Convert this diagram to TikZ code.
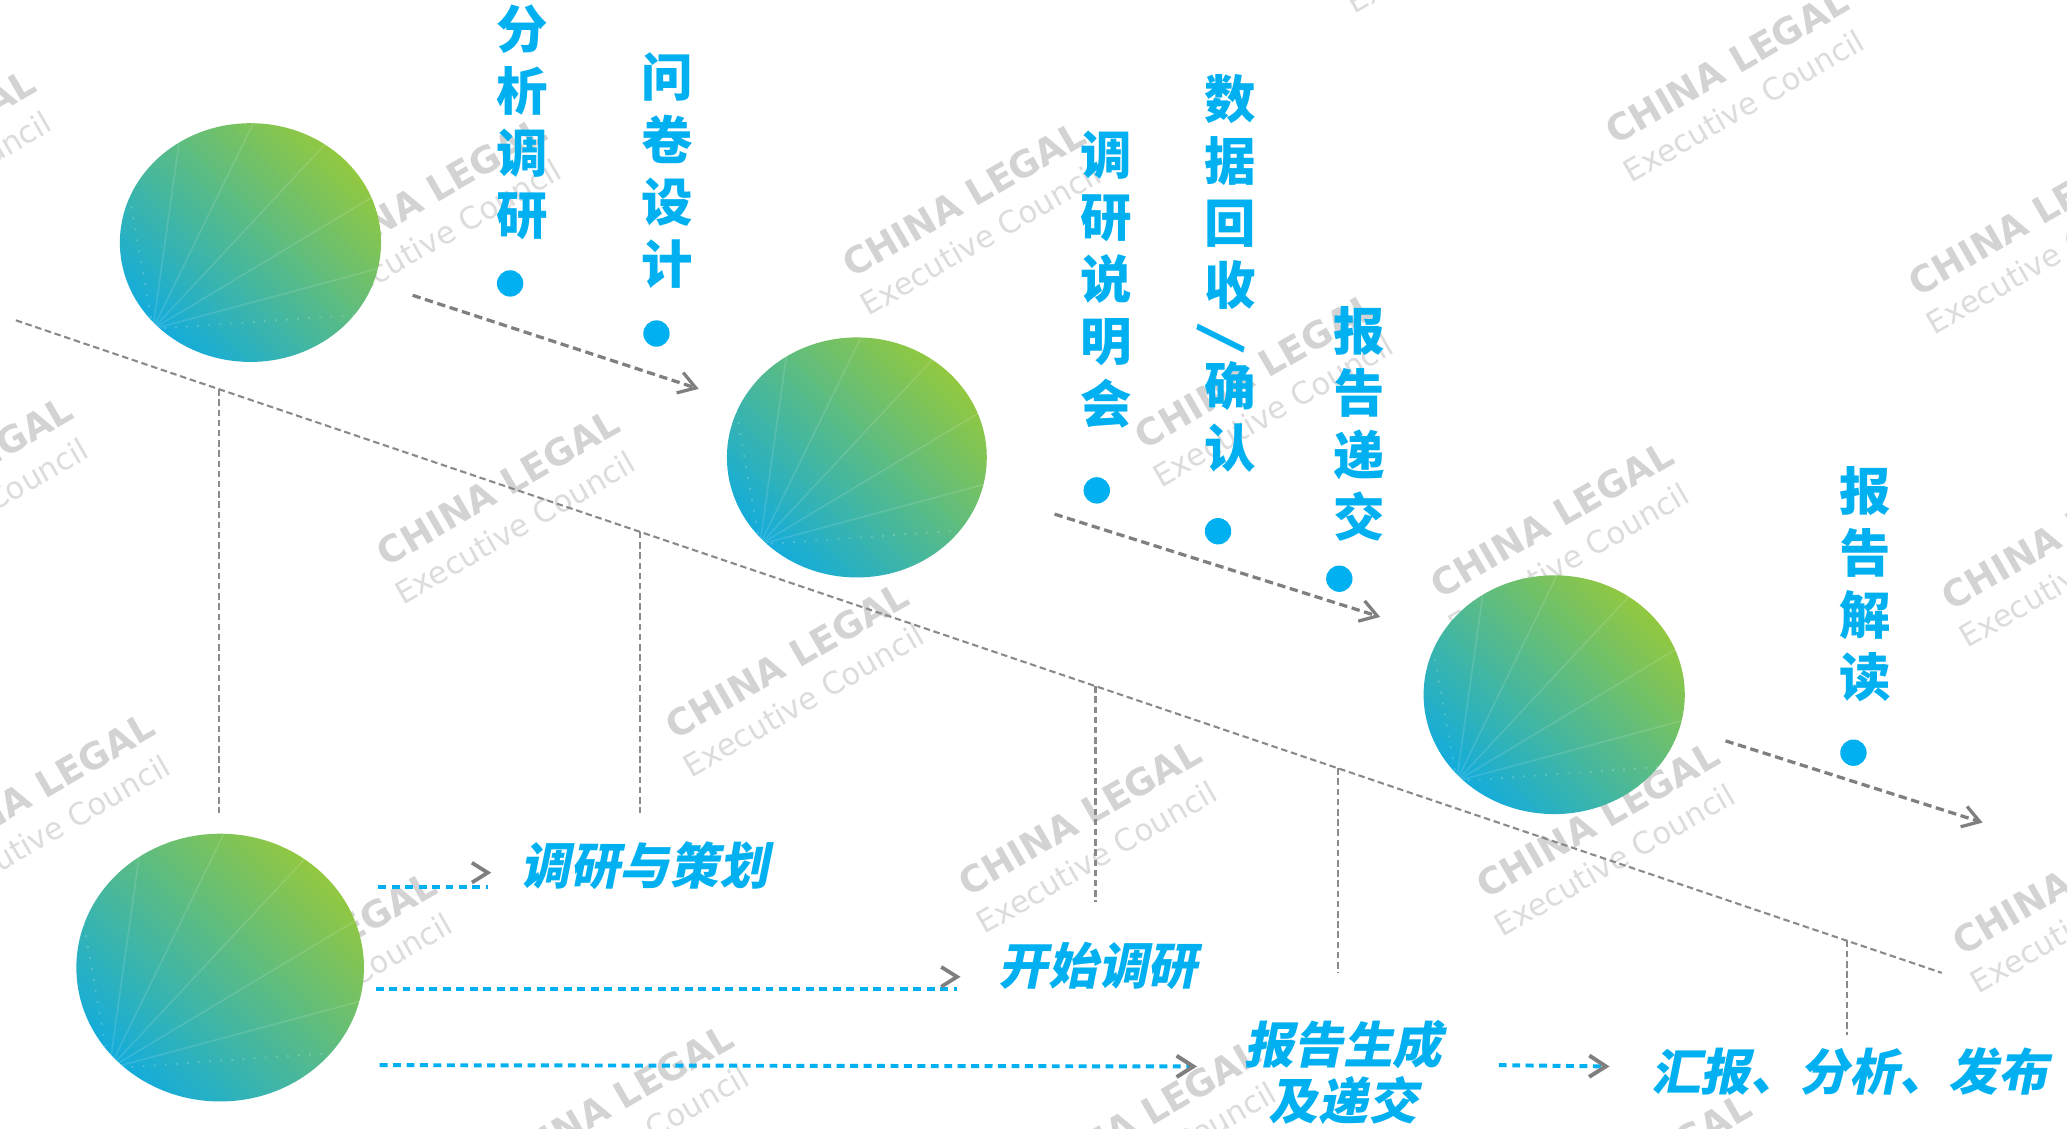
\documentclass[tikz,border=0pt]{standalone}
\usepackage{fontspec}
\setmainfont{DejaVu Sans}
\newfontfamily\cjkv{Noto Sans CJK SC}
\newfontfamily\cjks{Noto Sans CJK SC}[FakeSlant=0.2]
\newfontfamily\wmfont{DejaVu Sans}
\usetikzlibrary{arrows.meta,shapes.geometric,calc}
\definecolor{txtblue}{HTML}{00B0F0}
\definecolor{lngray}{HTML}{7F7F7F}
\definecolor{thingray}{HTML}{8A8A8A}
\definecolor{ballcy}{HTML}{14ACDB}
\definecolor{ballgr}{HTML}{92C840}
\definecolor{wmcA}{HTML}{D3D3D3}
\definecolor{wmcB}{HTML}{DCDCDC}
\begin{document}
\begin{tikzpicture}[x=0.01cm,y=-0.01cm,
  diag/.style={draw=thingray, line width=0.45pt, dash pattern=on 1.4pt off 0.8pt},
  vline/.style={draw=thingray, line width=0.45pt, dash pattern=on 1.4pt off 0.8pt},
  garrow/.style={draw=lngray, line width=0.7pt, dash pattern=on 1.8pt off 1pt, -{Straight Barb[length=3.6pt,width=4.6pt]}},
  bline/.style={draw=txtblue, line width=0.85pt, dash pattern=on 1.7pt off 1.2pt},
  barrow/.style={bline, -{Straight Barb[length=3.6pt,width=4.6pt,color=lngray]}},
  chev/.style={draw=lngray, line width=0.8pt},
  vtext/.style={text=txtblue, font=\cjkv\bfseries\fontsize{11.1pt}{13.4pt}\selectfont, align=center, inner sep=0pt},
  ltext/.style={text=txtblue, font=\cjks\bfseries\fontsize{10.7pt}{12.2pt}\selectfont, align=center, inner sep=0pt},
  dot/.style={circle, fill=txtblue, minimum size=0.2cm, inner sep=0pt},
  wmA/.style={font=\wmfont\bfseries\fontsize{7.9pt}{9pt}\selectfont, text=wmcA, inner sep=0pt, rotate=30},
  wmB/.style={font=\wmfont\fontsize{6.6pt}{8pt}\selectfont, text=wmcB, inner sep=0pt, rotate=30},
  ball/.style={ellipse, inner sep=0pt, top color=ballcy, bottom color=ballgr, shading angle=135,
    path picture={
      \foreach \a in {82,64,47,31,15}{
        \draw[white, opacity=0.12, line width=0.35pt] (path picture bounding box.south west) ++(0.25cm,0.25cm) -- ++(\a:3cm);
      }
      \draw[white, opacity=0.2, line width=0.4pt, dotted] (path picture bounding box.south west) ++(0.25cm,0.25cm) -- ++(100:3cm);
      \draw[white, opacity=0.2, line width=0.4pt, dotted] (path picture bounding box.south west) ++(0.25cm,0.25cm) -- ++(4:3cm);
    }}
]
\useasboundingbox (0,0) rectangle (1568,855.7);
\clip (0,0) rectangle (1568,855.7);
\fill[white] (0,0) rectangle (1568,855.7);

% watermarks
\foreach \i/\x/\y in {1/-65/112, 2/322/148, 3/731/151, 4/1100/-78, 5/1310/50, 6/1540/165,
  7/-37/360, 8/378/370, 9/953/281, 10/597/501, 11/1177/394, 12/1565/403, 13/25/600,
  14/819/620, 15/1212/622, 16/239/720, 17/1573/665, 18/464/836, 19/864/848, 20/1236/889}{
  \node[wmA] (wmA\i) at (\x,\y) {CHINA LEGAL};
  \node[wmB] (wmB\i) at (\x+12.6,\y+30.3) {Executive Council};
}

% main diagonal and verticals
\coordinate (dl0) at (12,243);
\coordinate (dl1) at (1473,738);
\draw[diag] (dl0) -- (dl1);
\coordinate (v1t) at (166,295.2);   \coordinate (v1b) at (166,617);
\coordinate (v2t) at (485.6,403.5); \coordinate (v2b) at (485.6,617);
\coordinate (v3t) at (831,520.5);   \coordinate (v3b) at (831,684);
\coordinate (v4t) at (1015,582.8);  \coordinate (v4b) at (1015,738);
\coordinate (v5t) at (1401,713.6);  \coordinate (v5b) at (1401,785);
\foreach \k in {1,...,5}{ \draw[vline] (v\k t) -- (v\k b); }

% short diagonal arrows
\coordinate (a1s) at (313,224);  \coordinate (a1e) at (530,295);
\coordinate (a2s) at (800,390);  \coordinate (a2e) at (1047,468);
\coordinate (a3s) at (1309,562); \coordinate (a3e) at (1504,624);
\draw[garrow] (a1s) -- (a1e);
\draw[garrow] (a2s) -- (a2e);
\draw[garrow] (a3s) -- (a3e);

% balls
\node[ball, minimum width=1.98cm, minimum height=1.81cm] (c1) at (190,184) {};
\node[ball, minimum width=1.97cm, minimum height=1.82cm] (c2) at (650,347) {};
\node[ball, minimum width=1.98cm, minimum height=1.81cm] (c3) at (1179,527) {};
\node[ball, minimum width=2.18cm, minimum height=2.03cm] (c4) at (167,734) {};

% vertical texts
\node[vtext] (t1) at (396,93) {分\\析\\调\\研};
\node[vtext] (t2) at (506,129.5) {问\\卷\\设\\计};
\node[vtext] (t3) at (839,212) {调\\研\\说\\明\\会};
\node[vtext] (t4a) at (933,145.5) {数\\据\\回\\收};
\node[vtext, rotate=-104] (t4s) at (926,257) {/};
\node[vtext] (t4b) at (933,316) {确\\认};
\node[vtext] (t5) at (1031,321.5) {报\\告\\递\\交};
\node[vtext] (t6) at (1415,443) {报\\告\\解\\读};

% dots
\node[dot] (d1) at (387,215) {};
\node[dot] (d2) at (498,253) {};
\node[dot] (d3) at (832,372) {};
\node[dot] (d4) at (924,403) {};
\node[dot] (d5) at (1016,439) {};
\node[dot] (d6) at (1406,571) {};

% bottom blue arrows
\coordinate (b1s) at (287,673);  \coordinate (b1e) at (370,673);  \coordinate (b1h) at (370,662);
\coordinate (b2s) at (285,750);  \coordinate (b2e) at (726,750);  \coordinate (b2h) at (726,741);
\coordinate (b3s) at (288,808);  \coordinate (b3e) at (908,809);
\coordinate (b4s) at (1137,808); \coordinate (b4e) at (1221,809);
\draw[bline] (b1s) -- (b1e);
\draw[chev] ($(b1h)+(-12,-7.5)$) -- (b1h) -- ($(b1h)+(-12,7.5)$);
\draw[bline] (b2s) -- (b2e);
\draw[chev] ($(b2h)+(-12,-7.5)$) -- (b2h) -- ($(b2h)+(-12,7.5)$);
\draw[barrow] (b3s) -- (b3e);
\draw[barrow] (b4s) -- (b4e);

% bottom labels
\node[ltext] (l1) at (489,657) {调研与策划};
\node[ltext] (l2) at (833,733) {开始调研};
\node[ltext] (l3) at (1019,813.5) {报告生成\\及递交};
\node[ltext] (l4) at (1403,813) {汇报、分析、发布};
\end{tikzpicture}
\end{document}
